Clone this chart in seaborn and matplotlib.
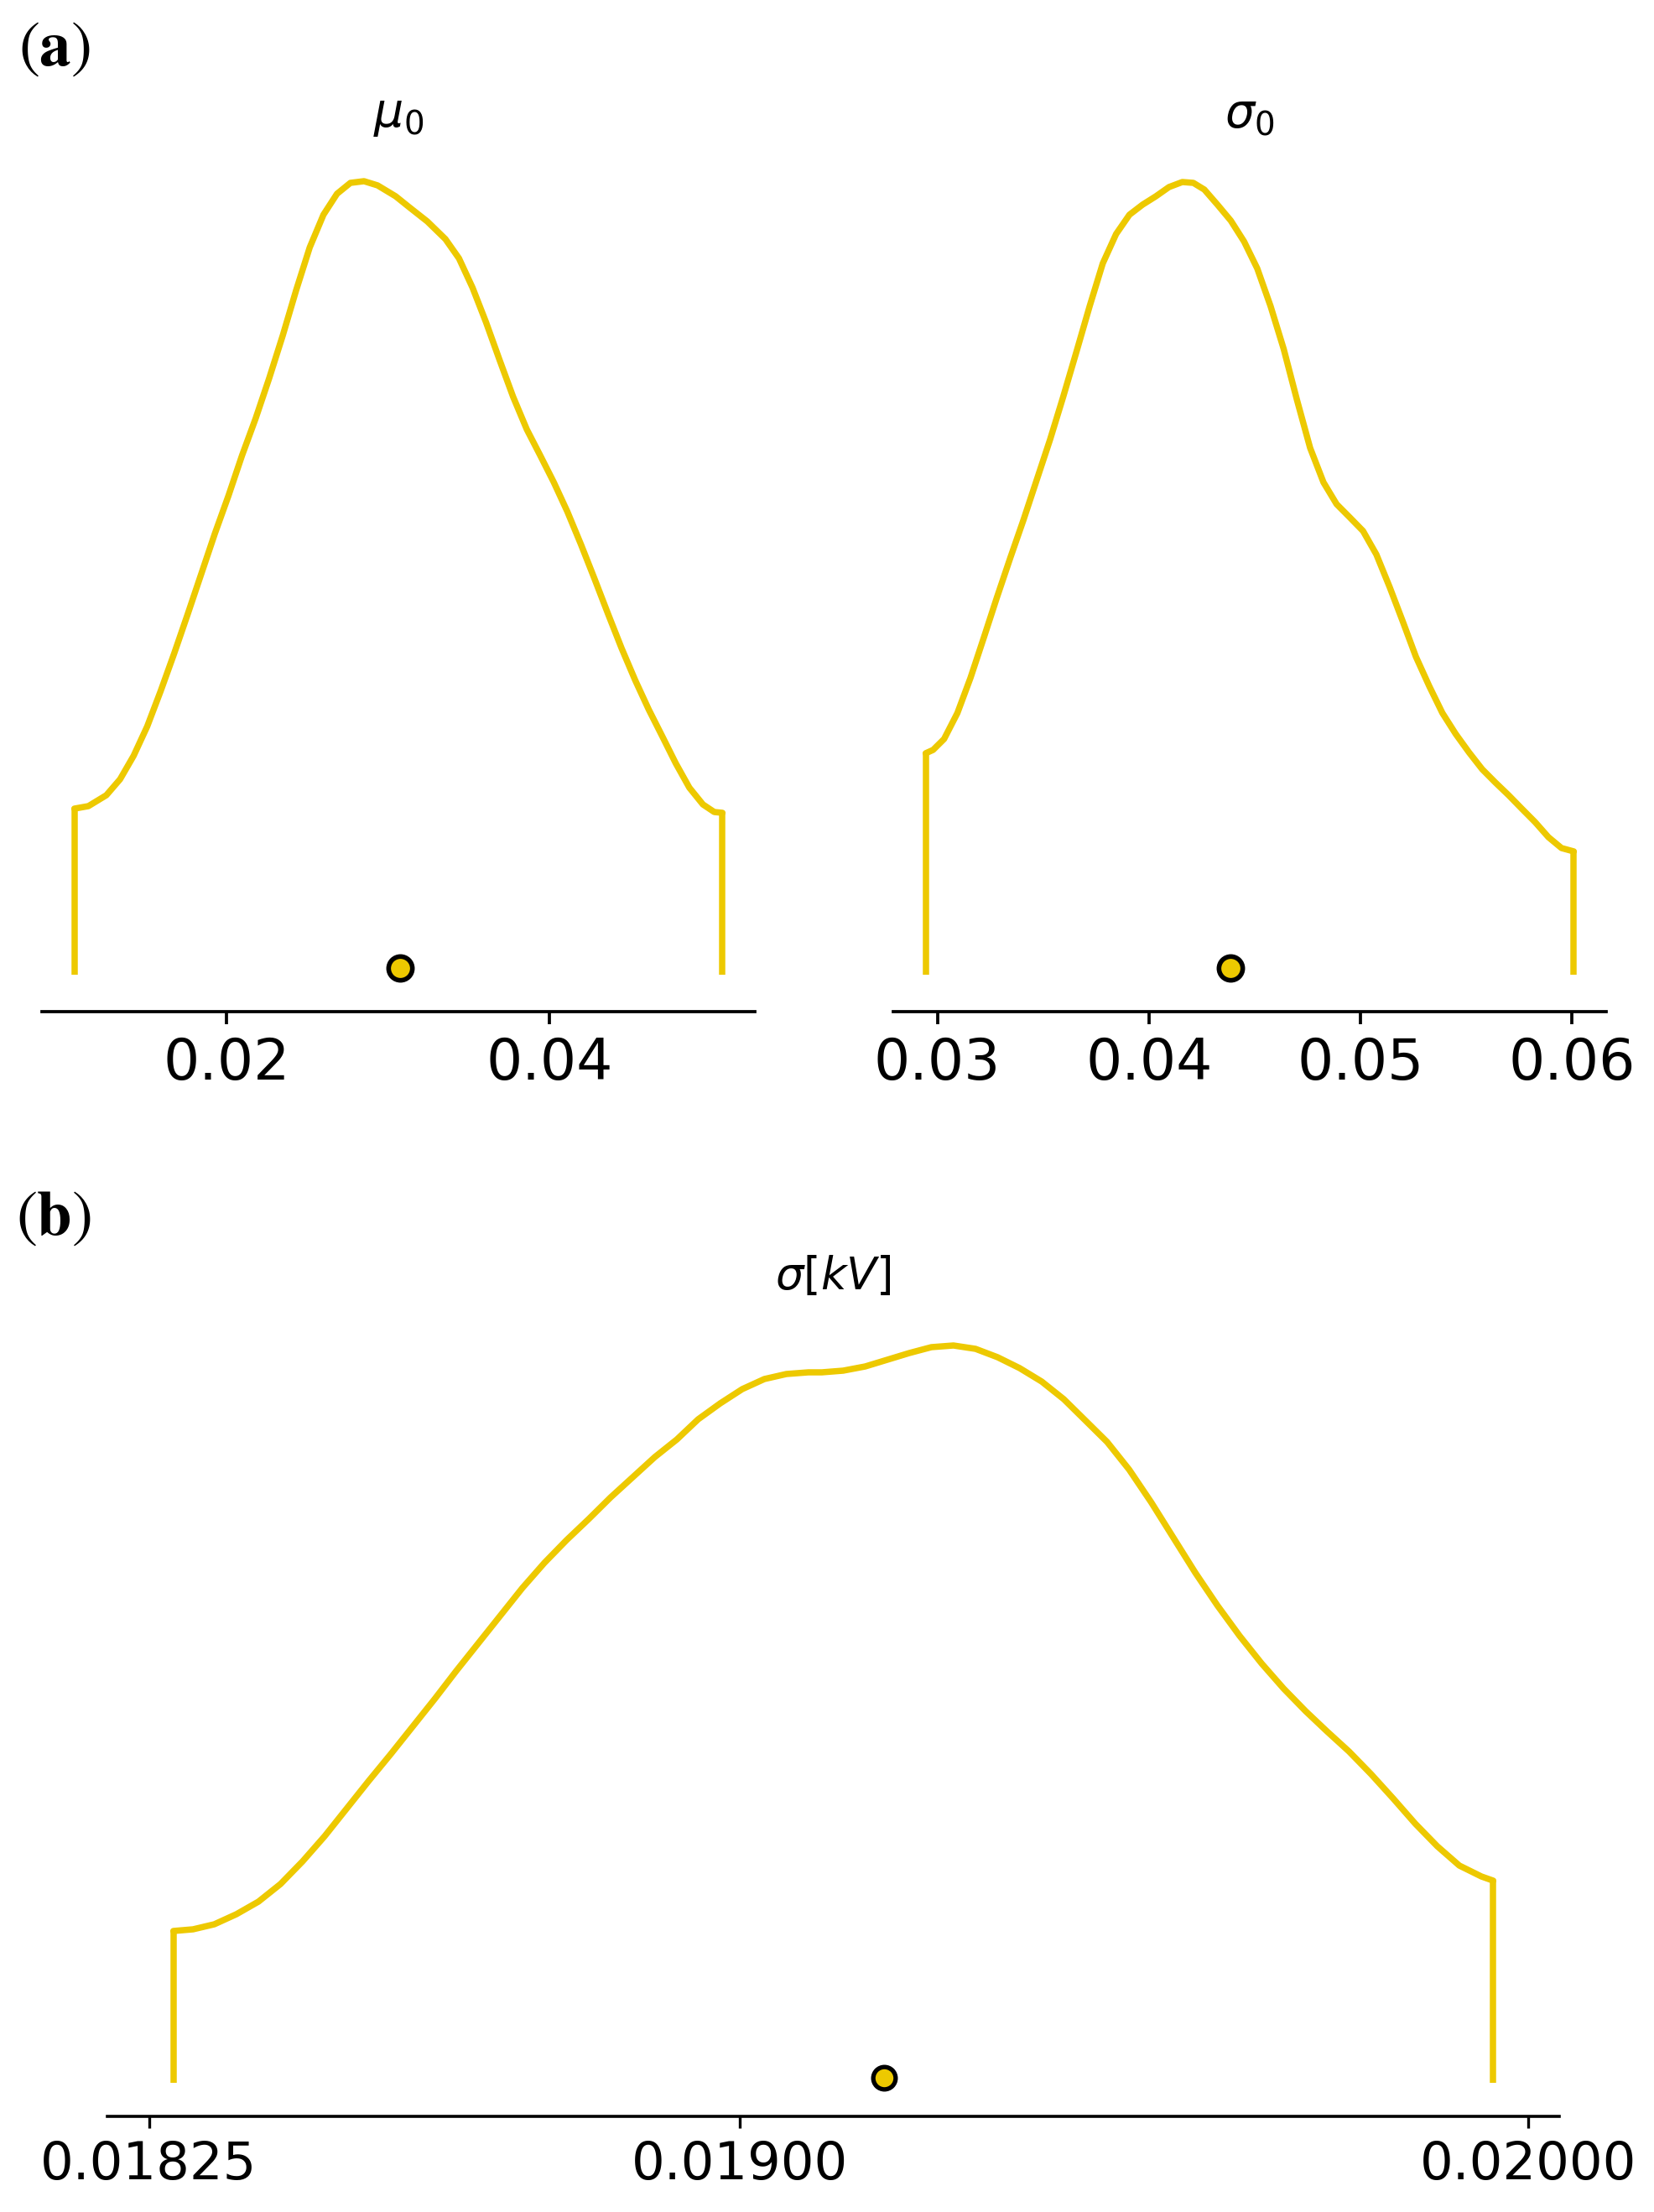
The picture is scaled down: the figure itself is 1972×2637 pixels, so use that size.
import matplotlib
matplotlib.use("Agg")
import matplotlib.pyplot as plt
import seaborn as sns

# ---------------- data ----------------
# panel (a), left: mu_0
mu0_x = [0.01058, 0.01145, 0.01256, 0.01341, 0.01425, 0.01509, 0.01592, 0.01676,
         0.01760, 0.01844, 0.01928, 0.02012, 0.02096, 0.02180, 0.02264, 0.02348,
         0.02431, 0.02515, 0.02600, 0.02684, 0.02767, 0.02851, 0.02935, 0.03047,
         0.03131, 0.03243, 0.03355, 0.03439, 0.03523, 0.03606, 0.03690, 0.03774,
         0.03859, 0.03942, 0.04026, 0.04110, 0.04194, 0.04278, 0.04362, 0.04446,
         0.04530, 0.04614, 0.04698, 0.04781, 0.04865, 0.04949, 0.05019, 0.05070]
mu0_density = [0.198, 0.201, 0.214, 0.233, 0.261, 0.296, 0.338, 0.383,
               0.430, 0.478, 0.526, 0.571, 0.619, 0.663, 0.711, 0.762,
               0.816, 0.867, 0.906, 0.931, 0.944, 0.946, 0.941, 0.928,
               0.915, 0.898, 0.877, 0.854, 0.819, 0.778, 0.733, 0.689,
               0.650, 0.619, 0.587, 0.552, 0.513, 0.472, 0.430, 0.389,
               0.351, 0.316, 0.284, 0.252, 0.223, 0.203, 0.194, 0.193]
mu0_mean = 0.03075
mu0_ticks = [0.02, 0.04]
mu0_ticklabels = ["0.02", "0.04"]

# panel (a), right: sigma_0
sigma0_x = [0.02945, 0.02980, 0.03032, 0.03095, 0.03157, 0.03220, 0.03282, 0.03345,
            0.03407, 0.03470, 0.03533, 0.03595, 0.03658, 0.03720, 0.03782, 0.03845,
            0.03908, 0.03970, 0.04033, 0.04095, 0.04158, 0.04210, 0.04262, 0.04324,
            0.04387, 0.04450, 0.04512, 0.04575, 0.04637, 0.04700, 0.04762, 0.04825,
            0.04887, 0.04950, 0.05012, 0.05075, 0.05138, 0.05200, 0.05262, 0.05325,
            0.05387, 0.05450, 0.05513, 0.05575, 0.05638, 0.05700, 0.05762, 0.05825,
            0.05888, 0.05950, 0.06008]
sigma0_density = [0.264, 0.268, 0.281, 0.312, 0.354, 0.402, 0.450, 0.497,
                  0.542, 0.590, 0.638, 0.689, 0.743, 0.797, 0.848, 0.883,
                  0.906, 0.918, 0.928, 0.939, 0.945, 0.944, 0.936, 0.918,
                  0.899, 0.874, 0.842, 0.797, 0.746, 0.685, 0.628, 0.587,
                  0.561, 0.545, 0.529, 0.501, 0.462, 0.421, 0.379, 0.344,
                  0.312, 0.287, 0.265, 0.245, 0.229, 0.214, 0.198, 0.182,
                  0.164, 0.151, 0.147]
sigma0_mean = 0.04387
sigma0_ticks = [0.03, 0.04, 0.05, 0.06]
sigma0_ticklabels = ["0.03", "0.04", "0.05", "0.06"]

# panel (b): sigma [kV]
sigma_x = [0.018281, 0.018306, 0.018333, 0.018361, 0.018389, 0.018417, 0.018445, 0.018473,
           0.018501, 0.018529, 0.018557, 0.018585, 0.018613, 0.018640, 0.018668, 0.018696,
           0.018724, 0.018752, 0.018780, 0.018808, 0.018836, 0.018864, 0.018892, 0.018920,
           0.018947, 0.018975, 0.019003, 0.019031, 0.019059, 0.019087, 0.019104, 0.019131,
           0.019159, 0.019187, 0.019215, 0.019243, 0.019271, 0.019299, 0.019327, 0.019355,
           0.019383, 0.019411, 0.019438, 0.019466, 0.019494, 0.019522, 0.019550, 0.019578,
           0.019606, 0.019634, 0.019662, 0.019690, 0.019718, 0.019745, 0.019773, 0.019801,
           0.019829, 0.019857, 0.019885, 0.019913, 0.019941, 0.019956]
sigma_density = [0.181, 0.183, 0.189, 0.201, 0.216, 0.237, 0.264, 0.294,
                 0.327, 0.360, 0.392, 0.425, 0.458, 0.491, 0.524, 0.557,
                 0.590, 0.620, 0.647, 0.672, 0.698, 0.722, 0.746, 0.767,
                 0.791, 0.810, 0.827, 0.839, 0.845, 0.847, 0.847, 0.849,
                 0.854, 0.862, 0.870, 0.877, 0.879, 0.875, 0.865, 0.852,
                 0.836, 0.815, 0.790, 0.764, 0.731, 0.692, 0.650, 0.608,
                 0.569, 0.533, 0.500, 0.470, 0.443, 0.419, 0.395, 0.368,
                 0.339, 0.309, 0.282, 0.259, 0.246, 0.241]
sigma_mean = 0.019183
sigma_ticks = [0.01825, 0.01900, 0.02000]
sigma_ticklabels = ["0.01825", "0.01900", "0.02000"]

titles = [r"$\mu_0$", r"$\sigma_0$", r"$\sigma[kV]$"]
panel_labels = [r"$(\mathbf{a})$", r"$(\mathbf{b})$"]

# ---------------- style ----------------
sns.set_theme(style="white")
plt.rcParams["font.family"] = ["DejaVu Sans"]
plt.rcParams["mathtext.fontset"] = "dejavusans"

YELLOW = "#EDC900"
W, H = 1972, 2637
fig = plt.figure(figsize=(W / 200, H / 200), dpi=200)


def rect(left, right, top, bottom):
    return [left / W, 1 - bottom / H, (right - left) / W, (bottom - top) / H]


def panel(r, x, d, mean, ticks, labels, title, ylim, lw, ms, mew,
          tick_fs, title_fs, ticklen, tickw, spw, dot_y, pad_title, pad_tick):
    ax = fig.add_axes(r)
    sns.lineplot(x=x, y=d, ax=ax, color=YELLOW, linewidth=lw,
                 estimator=None, sort=False)
    ax.vlines([x[0], x[-1]], 0, [d[0], d[-1]], color=YELLOW, linewidth=lw)
    sns.scatterplot(x=[mean], y=[dot_y], ax=ax, s=ms ** 2, color=YELLOW,
                    edgecolor="black", linewidth=mew, zorder=4)
    ax.set_ylim(*ylim)
    ax.set_xticks(ticks)
    ax.set_xticklabels(labels)
    ax.set_yticks([])
    ax.set_xlabel("")
    ax.set_ylabel("")
    sns.despine(ax=ax, left=True)
    ax.spines["bottom"].set_color("black")
    ax.spines["bottom"].set_linewidth(spw)
    ax.tick_params(axis="x", bottom=True, length=ticklen, width=tickw,
                   color="black", labelcolor="black", labelsize=tick_fs,
                   pad=pad_tick)
    ax.set_title(title, fontsize=title_fs, color="black", pad=pad_title)
    return ax


panel(rect(50, 900, 168, 1206), mu0_x, mu0_density, mu0_mean, mu0_ticks,
      mu0_ticklabels, titles[0], (-0.044, 0.994), 2.7, 10.2, 2.0,
      24.5, 20, 5.4, 1.35, 1.35, 0.008, 6, 5.2)
panel(rect(1065, 1915, 168, 1206), sigma0_x, sigma0_density, sigma0_mean,
      sigma0_ticks, sigma0_ticklabels, titles[1], (-0.044, 0.994), 2.7, 10.2,
      2.0, 24.5, 20, 5.4, 1.35, 1.35, 0.008, 6, 5.2)
panel(rect(128, 1859, 1554, 2523), sigma_x, sigma_density, sigma_mean,
      sigma_ticks, sigma_ticklabels, titles[2], (-0.040, 0.929), 2.7, 9.6,
      1.9, 22.5, 19, 4.9, 1.2, 1.3, 0.006, 6, 5.2)

fig.text(22 / W, 1 - 78 / H, panel_labels[0], fontsize=27, color="black",
         math_fontfamily="stix", va="baseline", ha="left")
fig.text(19 / W, 1 - 1472 / H, panel_labels[1], fontsize=27, color="black",
         math_fontfamily="stix", va="baseline", ha="left")

fig.savefig("out.png", dpi=200)
